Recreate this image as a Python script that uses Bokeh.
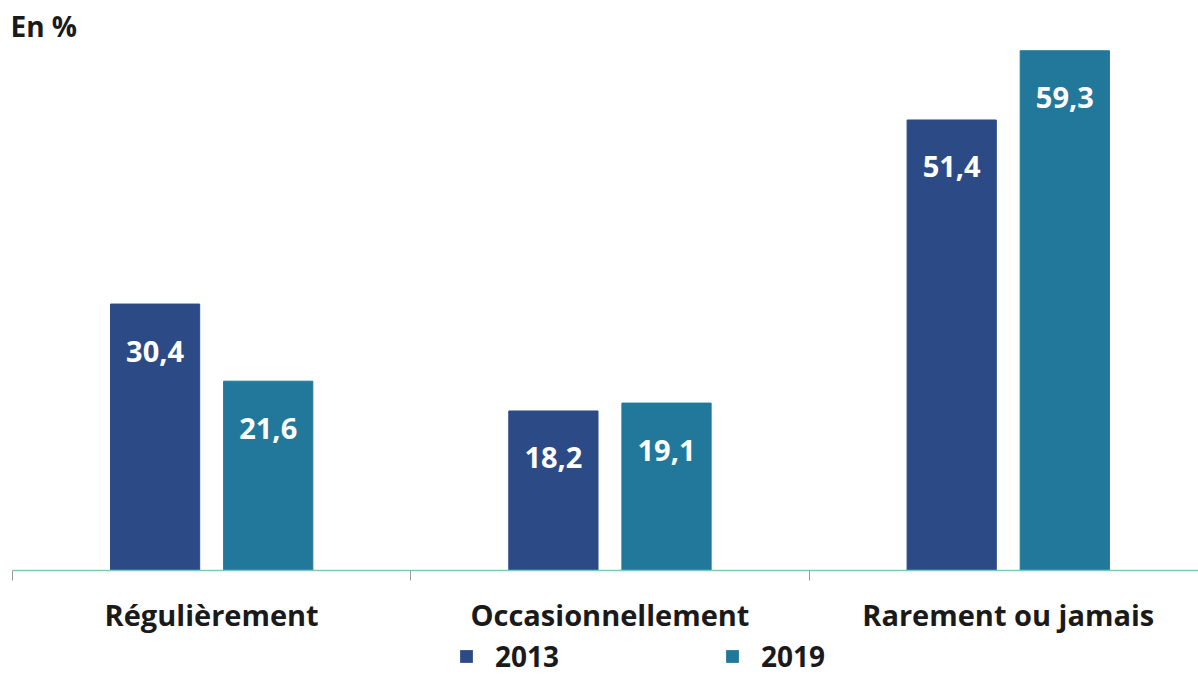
from bokeh.plotting import figure
from bokeh.layouts import column
from bokeh.models import (ColumnDataSource, FixedTicker, Range1d, Legend, LegendItem,
                          Label, CustomJSTickFormatter)
from bokeh.core.properties import value
from bokeh.embed import file_html
from bokeh.resources import INLINE

categories = ["Régulièrement", "Occasionnellement", "Rarement ou jamais"]
years = ["2013", "2019"]
values_2013 = [30.4, 18.2, 51.4]
values_2019 = [21.6, 19.1, 59.3]
unit_label = "En %"

C2013 = "#2c4b86"
C2019 = "#22789a"
FONT = "Open Sans"
TXT = "#1a1a1a"

def fmt(v):
    return f"{v:.1f}".replace(".", ",")

n = len(categories)
idx = list(range(n))
off = 0.142
bw = 0.224
PX_X = 398.3   # pixels per category
PX_Y = 8.78    # pixels per percent

s13 = ColumnDataSource(dict(x=[i + 0.5 - off for i in idx], top=values_2013,
                            lab=[fmt(v) for v in values_2013]))
s19 = ColumnDataSource(dict(x=[i + 0.5 + off for i in idx], top=values_2019,
                            lab=[fmt(v) for v in values_2019]))

W = 1198
H1, H2 = 636, 39
FRAME_H = 571
LEFT = 12
p = figure(width=W, height=H1, output_backend="svg", toolbar_location=None,
           x_range=Range1d(0, (W - LEFT) / PX_X), y_range=Range1d(0, FRAME_H / PX_Y),
           min_border_left=LEFT, min_border_right=0, min_border_top=0,
           min_border_bottom=H1 - FRAME_H)
p.outline_line_color = None
p.grid.visible = False
p.yaxis.visible = False
p.background_fill_color = "white"

r13 = p.vbar(x="x", top="top", width=bw, bottom=0, source=s13, color=C2013)
r19 = p.vbar(x="x", top="top", width=bw, bottom=0, source=s19, color=C2019)

for s in (s13, s19):
    p.text(x="x", y="top", text="lab", source=s, y_offset=47,
           text_align="center", text_baseline="middle", text_color="white",
           text_font=value(FONT), text_font_style="bold", text_font_size="29px")

ax = p.xaxis[0]
ax.ticker = FixedTicker(ticks=[i + 0.5 for i in idx], minor_ticks=[float(i) for i in range(n + 1)])
ax.formatter = CustomJSTickFormatter(args=dict(cats=categories),
                                     code="return cats[Math.round(tick - 0.5)];")
ax.axis_line_color = "#7fcab6"
ax.axis_line_width = 1.5
ax.major_tick_line_color = None
ax.major_tick_in = 0
ax.major_tick_out = 0
ax.minor_tick_line_color = "#9a9a9a"
ax.minor_tick_in = 0
ax.minor_tick_out = 10
ax.major_label_standoff = 14
ax.major_label_text_font = FONT
ax.major_label_text_font_style = "bold"
ax.major_label_text_font_size = "29px"
ax.major_label_text_color = TXT

p.add_layout(Label(x=-2 / PX_X, y=(FRAME_H - 25.5) / PX_Y, text=unit_label,
                   text_font=FONT, text_font_style="bold", text_font_size="28px",
                   text_baseline="middle", text_color=TXT))

# legend strip below the chart (swatch renderers have zero height, so draw nothing)
q = figure(width=W, height=H2, output_backend="svg", toolbar_location=None,
           x_range=Range1d(0, 1), y_range=Range1d(0, 1),
           min_border_left=0, min_border_right=0, min_border_top=0, min_border_bottom=0)
q.outline_line_color = None
q.grid.visible = False
q.axis.visible = False
e13 = q.vbar(x=[0.5], top=[0], bottom=[0], width=0.1, fill_color=C2013, line_color=None)
e19 = q.vbar(x=[0.5], top=[0], bottom=[0], width=0.1, fill_color=C2019, line_color=None)

legend = Legend(items=[LegendItem(label=years[0], renderers=[e13]),
                       LegendItem(label=years[1], renderers=[e19])],
                orientation="horizontal", location=(446, 0),
                glyph_width=16, glyph_height=16, label_standoff=21,
                label_width=67, spacing=162, padding=0, margin=0,
                border_line_color=None, background_fill_alpha=0,
                label_text_font=FONT, label_text_font_style="bold",
                label_text_font_size="28px", label_text_color=TXT)
q.add_layout(legend, "center")

layout = column(p, q, spacing=0)
open("out.html", "w").write(file_html(layout, INLINE))
